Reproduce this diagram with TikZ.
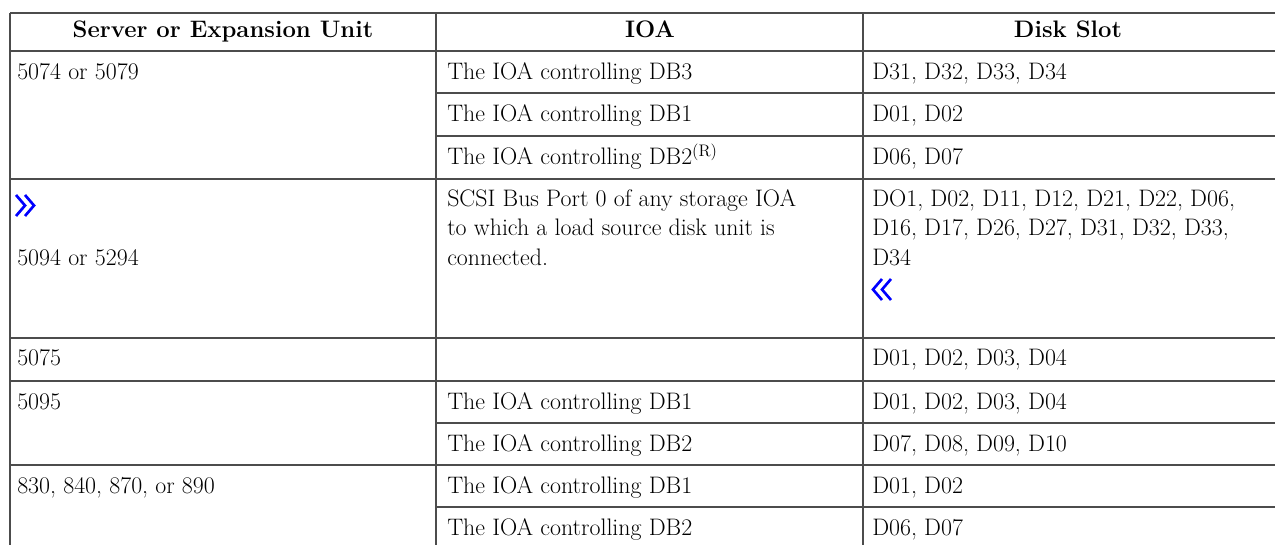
\documentclass[tikz,border=0pt]{standalone}
\usepackage{tikz}
\usetikzlibrary{positioning}
\definecolor{rulegray}{gray}{0.3}
\definecolor{chgblue}{RGB}{0,0,255}

\begin{document}
\begin{tikzpicture}[x=0.75pt,y=-0.75pt,
    rule/.style={rulegray, line width=1.1pt},
    cell/.style={anchor=base west, inner sep=0pt, font=\fontsize{17.9}{22}\selectfont},
    head/.style={anchor=base, inner sep=0pt, font=\fontsize{17.9}{22}\selectfont\bfseries},
    marker/.style={chgblue, line width=2pt, line join=miter}]
    \useasboundingbox (0,0) rectangle (1275,545);
    \clip (0,0) rectangle (1275,545);

    % Rules across the whole table
    \foreach \y in {13,51,179,338,381,465} {
        \draw[rule] (10,\y) -- (1290,\y);
    }
    % Rules between sub-rows (first column spans them)
    \foreach \y in {93,136,423,507} {
        \draw[rule] (436,\y) -- (1290,\y);
    }
    % Column rules
    \foreach \x in {10,436,863} {
        \draw[rule] (\x,13) -- (\x,560);
    }

    % Header
    \node[head] (hunit) at (223,38)  {Server or Expansion Unit};
    \node[head] (hioa)  at (650,38)  {IOA};
    \node[head] (hslot) at (1068,38) {Disk Slot};

    % 5074 or 5079
    \node[cell] (u5074) at (17,80) {5074 or 5079};
    \foreach \i/\y/\ioa/\slot in {a/80/{The IOA controlling DB3}/{D31, D32, D33, D34},
                                  b/122/{The IOA controlling DB1}/{D01, D02},
                                  c/165/{The IOA controlling DB2\textsuperscript{(R)}}/{D06, D07}} {
        \node[cell] (ioa5074\i)  at (447,\y) {\ioa};
        \node[cell] (slot5074\i) at (872,\y) {\slot};
    }

    % 5094 or 5294 (change markers)
    \foreach \dx in {0,9} {
        \draw[marker] (16+\dx,195) -- ++(9,10.5) -- ++(-9,10.5);
    }
    \node[cell] (u5094) at (17,266) {5094 or 5294};
    \foreach \i/\y/\ioa/\slot in {a/207/{SCSI Bus Port 0 of any storage IOA}/{DO1, D02, D11, D12, D21, D22, D06,},
                                  b/236/{to which a load source disk unit is}/{D16, D17, D26, D27, D31, D32, D33,},
                                  c/266/{connected.}/{D34}} {
        \node[cell] (ioa5094\i)  at (447,\y) {\ioa};
        \node[cell] (slot5094\i) at (872,\y) {\slot};
    }
    \foreach \dx in {0,9} {
        \draw[marker] (882+\dx,279) -- ++(-9,10.5) -- ++(9,10.5);
    }

    % 5075
    \node[cell] (u5075)    at (17,366)  {5075};
    \node[cell] (slot5075) at (872,366) {D01, D02, D03, D04};

    % 5095
    \node[cell] (u5095) at (17,409) {5095};
    \foreach \i/\y/\ioa/\slot in {a/409/{The IOA controlling DB1}/{D01, D02, D03, D04},
                                  b/451/{The IOA controlling DB2}/{D07, D08, D09, D10}} {
        \node[cell] (ioa5095\i)  at (447,\y) {\ioa};
        \node[cell] (slot5095\i) at (872,\y) {\slot};
    }

    % 830, 840, 870, or 890
    \node[cell] (u830) at (17,493) {830, 840, 870, or 890};
    \foreach \i/\y/\ioa/\slot in {a/493/{The IOA controlling DB1}/{D01, D02},
                                  b/535/{The IOA controlling DB2}/{D06, D07}} {
        \node[cell] (ioa830\i)  at (447,\y) {\ioa};
        \node[cell] (slot830\i) at (872,\y) {\slot};
    }
\end{tikzpicture}
\end{document}
